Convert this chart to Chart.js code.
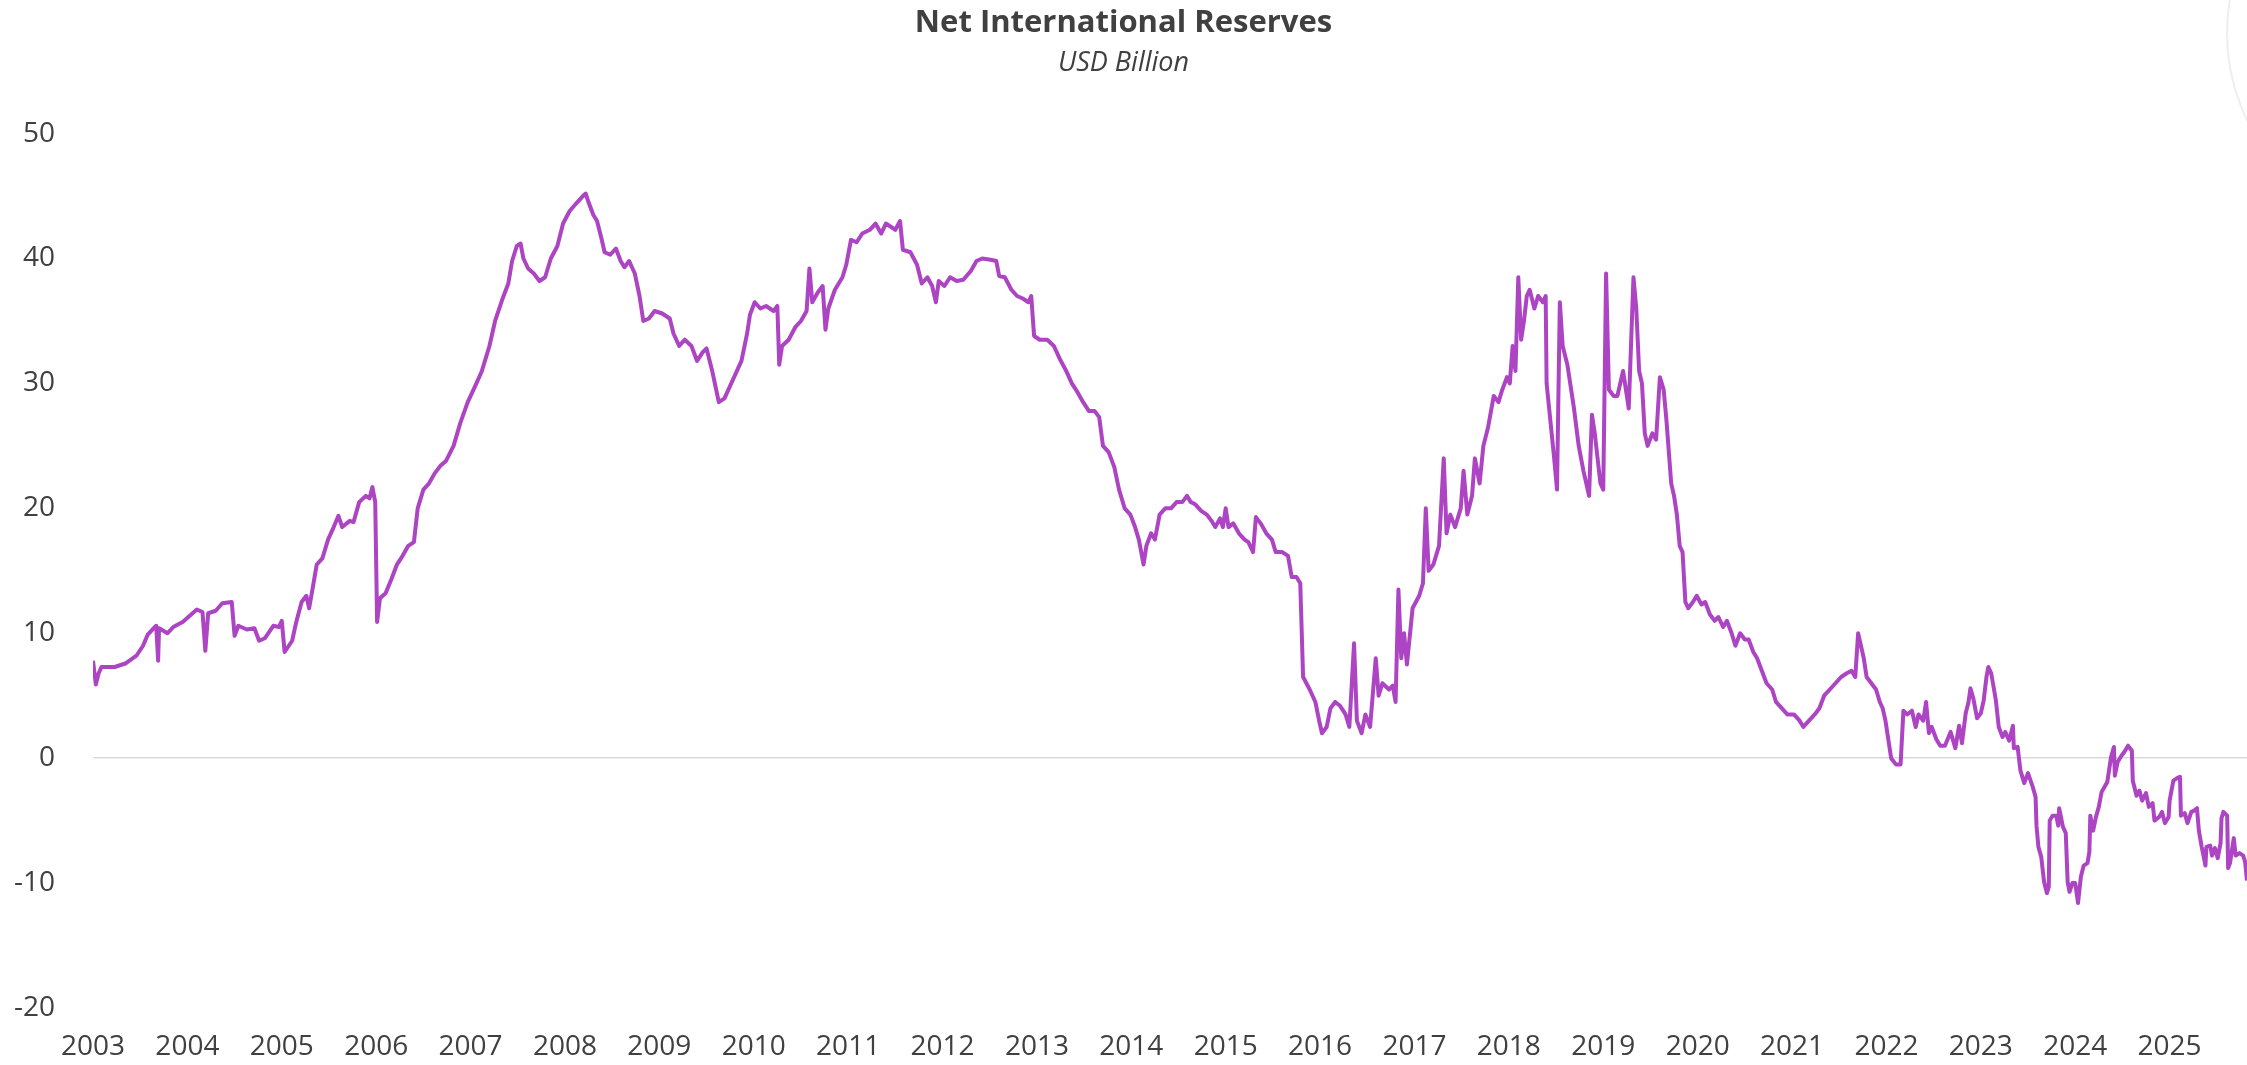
<!DOCTYPE html>
<html>
<head>
<meta charset="utf-8">
<script src="https://cdn.jsdelivr.net/npm/chart.js@4.4.1/dist/chart.umd.min.js"></script>
<style>
  html, body { margin: 0; padding: 0; background: #ffffff; }
  #wrap { width: 2247px; height: 1065px; position: relative; }
</style>
</head>
<body>
<div id="wrap"><canvas id="nirChart"></canvas></div>
<script>
// observation dates (decimal years) and net international reserves (USD bn)
const dates = [
  2003.00, 2003.03, 2003.06, 2003.09, 2003.23, 2003.35, 2003.46, 2003.53, 2003.58, 2003.63,
  2003.67, 2003.69, 2003.70, 2003.79, 2003.85, 2003.95, 2004.04, 2004.10, 2004.16, 2004.19,
  2004.22, 2004.30, 2004.37, 2004.47, 2004.50, 2004.54, 2004.63, 2004.71, 2004.76, 2004.82,
  2004.91, 2004.97, 2005.00, 2005.03, 2005.11, 2005.15, 2005.21, 2005.26, 2005.29, 2005.32,
  2005.37, 2005.43, 2005.49, 2005.55, 2005.60, 2005.64, 2005.72, 2005.76, 2005.82, 2005.89,
  2005.93, 2005.96, 2005.99, 2006.01, 2006.04, 2006.10, 2006.16, 2006.22, 2006.28, 2006.34,
  2006.40, 2006.44, 2006.50, 2006.56, 2006.62, 2006.68, 2006.74, 2006.82, 2006.89, 2006.97,
  2007.05, 2007.12, 2007.20, 2007.26, 2007.34, 2007.40, 2007.44, 2007.49, 2007.53, 2007.56,
  2007.61, 2007.67, 2007.73, 2007.79, 2007.85, 2007.92, 2007.98, 2008.05, 2008.13, 2008.19,
  2008.22, 2008.25, 2008.30, 2008.34, 2008.39, 2008.42, 2008.48, 2008.54, 2008.59, 2008.63,
  2008.68, 2008.74, 2008.79, 2008.83, 2008.89, 2008.95, 2009.03, 2009.11, 2009.15, 2009.21,
  2009.27, 2009.34, 2009.40, 2009.46, 2009.50, 2009.56, 2009.63, 2009.69, 2009.75, 2009.81,
  2009.87, 2009.93, 2009.96, 2010.01, 2010.07, 2010.13, 2010.21, 2010.25, 2010.27, 2010.30,
  2010.37, 2010.44, 2010.50, 2010.56, 2010.59, 2010.62, 2010.68, 2010.73, 2010.76, 2010.79,
  2010.86, 2010.94, 2010.98, 2011.03, 2011.09, 2011.15, 2011.23, 2011.29, 2011.35, 2011.40,
  2011.46, 2011.50, 2011.55, 2011.58, 2011.66, 2011.73, 2011.78, 2011.84, 2011.89, 2011.93,
  2011.96, 2012.02, 2012.08, 2012.15, 2012.22, 2012.30, 2012.36, 2012.42, 2012.51, 2012.57,
  2012.60, 2012.66, 2012.73, 2012.79, 2012.85, 2012.91, 2012.94, 2012.97, 2013.03, 2013.11,
  2013.18, 2013.24, 2013.31, 2013.37, 2013.43, 2013.49, 2013.55, 2013.61, 2013.66, 2013.70,
  2013.76, 2013.82, 2013.87, 2013.93, 2013.99, 2014.04, 2014.08, 2014.13, 2014.16, 2014.21,
  2014.25, 2014.30, 2014.36, 2014.42, 2014.48, 2014.54, 2014.59, 2014.63, 2014.68, 2014.74,
  2014.80, 2014.85, 2014.89, 2014.94, 2014.97, 2015.00, 2015.03, 2015.08, 2015.14, 2015.20,
  2015.24, 2015.29, 2015.32, 2015.37, 2015.43, 2015.49, 2015.53, 2015.60, 2015.66, 2015.70,
  2015.75, 2015.79, 2015.82, 2015.89, 2015.95, 2015.99, 2016.02, 2016.07, 2016.11, 2016.16,
  2016.21, 2016.27, 2016.31, 2016.36, 2016.39, 2016.44, 2016.48, 2016.53, 2016.59, 2016.62,
  2016.66, 2016.73, 2016.77, 2016.80, 2016.83, 2016.86, 2016.89, 2016.92, 2016.98, 2017.05,
  2017.09, 2017.12, 2017.15, 2017.20, 2017.26, 2017.31, 2017.34, 2017.38, 2017.43, 2017.49,
  2017.52, 2017.56, 2017.61, 2017.64, 2017.69, 2017.73, 2017.78, 2017.84, 2017.89, 2017.93,
  2017.98, 2018.01, 2018.04, 2018.07, 2018.10, 2018.13, 2018.16, 2018.19, 2018.22, 2018.27,
  2018.31, 2018.36, 2018.39, 2018.40, 2018.44, 2018.48, 2018.51, 2018.54, 2018.57, 2018.62,
  2018.65, 2018.69, 2018.74, 2018.79, 2018.82, 2018.85, 2018.88, 2018.91, 2018.94, 2018.97,
  2019.00, 2019.03, 2019.06, 2019.11, 2019.15, 2019.18, 2019.21, 2019.24, 2019.27, 2019.32,
  2019.35, 2019.38, 2019.41, 2019.44, 2019.47, 2019.52, 2019.56, 2019.60, 2019.64, 2019.67,
  2019.72, 2019.75, 2019.78, 2019.81, 2019.84, 2019.87, 2019.90, 2019.95, 2019.99, 2020.04,
  2020.08, 2020.13, 2020.18, 2020.22, 2020.27, 2020.31, 2020.36, 2020.40, 2020.45, 2020.50,
  2020.54, 2020.59, 2020.63, 2020.68, 2020.73, 2020.79, 2020.83, 2020.89, 2020.95, 2021.02,
  2021.08, 2021.12, 2021.18, 2021.24, 2021.29, 2021.34, 2021.40, 2021.46, 2021.52, 2021.58,
  2021.63, 2021.67, 2021.70, 2021.73, 2021.76, 2021.79, 2021.84, 2021.89, 2021.93, 2021.96,
  2021.99, 2022.02, 2022.05, 2022.10, 2022.15, 2022.18, 2022.22, 2022.27, 2022.31, 2022.34,
  2022.39, 2022.42, 2022.45, 2022.48, 2022.53, 2022.57, 2022.62, 2022.68, 2022.73, 2022.77,
  2022.80, 2022.84, 2022.87, 2022.89, 2022.92, 2022.96, 2023.00, 2023.03, 2023.06, 2023.08,
  2023.11, 2023.14, 2023.16, 2023.19, 2023.23, 2023.26, 2023.30, 2023.34, 2023.35, 2023.39,
  2023.42, 2023.46, 2023.50, 2023.55, 2023.58, 2023.59, 2023.61, 2023.64, 2023.67, 2023.70,
  2023.72, 2023.73, 2023.76, 2023.80, 2023.82, 2023.83, 2023.87, 2023.90, 2023.92, 2023.94,
  2023.97, 2024.00, 2024.03, 2024.06, 2024.09, 2024.13, 2024.15, 2024.16, 2024.19, 2024.22,
  2024.25, 2024.28, 2024.31, 2024.34, 2024.38, 2024.41, 2024.42, 2024.45, 2024.49, 2024.52,
  2024.56, 2024.60, 2024.61, 2024.65, 2024.68, 2024.71, 2024.75, 2024.78, 2024.82, 2024.84,
  2024.89, 2024.92, 2024.95, 2024.99, 2025.00, 2025.04, 2025.08, 2025.11, 2025.12, 2025.16,
  2025.19, 2025.23, 2025.26, 2025.29, 2025.31, 2025.34, 2025.38, 2025.39, 2025.43, 2025.45,
  2025.48, 2025.51, 2025.54, 2025.55, 2025.57, 2025.61, 2025.62, 2025.64, 2025.66, 2025.68,
  2025.70, 2025.74, 2025.78, 2025.80, 2025.82
];
const reserves = [
  7.8, 5.9, 6.8, 7.3, 7.3, 7.6, 8.2, 9.0, 9.9, 10.3,
  10.6, 7.8, 10.4, 10.0, 10.5, 10.9, 11.5, 11.9, 11.7, 8.6,
  11.6, 11.8, 12.4, 12.5, 9.8, 10.6, 10.3, 10.4, 9.4, 9.6,
  10.6, 10.5, 11.0, 8.5, 9.4, 10.8, 12.5, 13.0, 12.0, 13.3,
  15.5, 16.0, 17.5, 18.5, 19.4, 18.5, 19.0, 18.9, 20.5, 21.0,
  20.8, 21.7, 20.5, 10.9, 12.8, 13.2, 14.3, 15.5, 16.2, 17.0,
  17.3, 20.0, 21.5, 22.0, 22.8, 23.4, 23.8, 25.0, 26.8, 28.5,
  29.8, 31.0, 33.0, 35.0, 36.8, 38.0, 39.8, 41.0, 41.2, 40.0,
  39.2, 38.8, 38.2, 38.5, 40.0, 41.0, 42.8, 43.8, 44.5, 45.0,
  45.2, 44.5, 43.5, 43.0, 41.5, 40.5, 40.3, 40.8, 39.8, 39.3,
  39.8, 38.8, 37.0, 35.0, 35.2, 35.8, 35.6, 35.2, 34.0, 33.0,
  33.5, 33.0, 31.8, 32.5, 32.8, 31.0, 28.5, 28.8, 29.8, 30.8,
  31.8, 34.0, 35.5, 36.5, 36.0, 36.2, 35.8, 36.2, 31.5, 33.0,
  33.5, 34.5, 35.0, 35.8, 39.2, 36.5, 37.3, 37.8, 34.3, 36.0,
  37.5, 38.5, 39.5, 41.5, 41.3, 42.0, 42.3, 42.8, 42.0, 42.8,
  42.5, 42.3, 43.0, 40.7, 40.5, 39.5, 38.0, 38.5, 37.8, 36.5,
  38.2, 37.8, 38.5, 38.2, 38.3, 39.0, 39.8, 40.0, 39.9, 39.8,
  38.6, 38.5, 37.5, 37.0, 36.8, 36.5, 37.0, 33.8, 33.5, 33.5,
  33.0, 32.0, 31.0, 30.0, 29.3, 28.5, 27.8, 27.8, 27.3, 25.0,
  24.5, 23.3, 21.5, 20.0, 19.5, 18.5, 17.5, 15.5, 17.0, 18.0,
  17.5, 19.5, 20.0, 20.0, 20.5, 20.5, 21.0, 20.5, 20.3, 19.8,
  19.5, 19.0, 18.5, 19.2, 18.5, 20.0, 18.5, 18.8, 18.0, 17.5,
  17.3, 16.5, 19.3, 18.8, 18.0, 17.5, 16.5, 16.5, 16.2, 14.5,
  14.5, 14.0, 6.5, 5.5, 4.5, 3.0, 2.0, 2.5, 4.0, 4.5,
  4.2, 3.5, 2.5, 9.2, 3.0, 2.0, 3.5, 2.5, 8.0, 5.0,
  6.0, 5.5, 5.8, 4.5, 13.5, 8.0, 10.0, 7.5, 12.0, 13.0,
  14.0, 20.0, 15.0, 15.5, 17.0, 24.0, 18.0, 19.5, 18.5, 20.0,
  23.0, 19.5, 21.0, 24.0, 22.0, 25.0, 26.5, 29.0, 28.5, 29.5,
  30.5, 30.0, 33.0, 31.0, 38.5, 33.5, 35.0, 37.0, 37.5, 36.0,
  37.0, 36.5, 37.0, 30.0, 27.0, 24.0, 21.5, 36.5, 33.0, 31.5,
  30.0, 28.0, 25.0, 23.0, 22.0, 21.0, 27.5, 26.0, 24.0, 22.0,
  21.5, 38.8, 29.5, 29.0, 29.0, 30.0, 31.0, 29.5, 28.0, 38.5,
  36.0, 31.0, 30.0, 26.0, 25.0, 26.0, 25.5, 30.5, 29.5, 27.0,
  22.0, 21.0, 19.5, 17.0, 16.5, 12.5, 12.0, 12.5, 13.0, 12.3,
  12.5, 11.5, 11.0, 11.3, 10.5, 11.0, 10.0, 9.0, 10.0, 9.5,
  9.5, 8.5, 8.0, 7.0, 6.0, 5.5, 4.5, 4.0, 3.5, 3.5,
  3.0, 2.5, 3.0, 3.5, 4.0, 5.0, 5.5, 6.0, 6.5, 6.8,
  7.0, 6.5, 10.0, 9.0, 8.0, 6.5, 6.0, 5.5, 4.5, 4.0,
  3.0, 1.5, 0.0, -0.5, -0.5, 3.8, 3.5, 3.8, 2.5, 3.5,
  3.0, 4.5, 2.0, 2.5, 1.5, 1.0, 1.0, 2.1, 0.8, 2.6,
  1.2, 3.6, 4.5, 5.6, 4.8, 3.2, 3.6, 4.6, 6.5, 7.3,
  6.8, 5.5, 4.6, 2.5, 1.7, 2.1, 1.4, 2.6, 0.8, 0.9,
  -1.0, -2.0, -1.2, -2.3, -3.1, -5.4, -7.1, -7.9, -9.9, -10.8,
  -10.3, -5.0, -4.6, -4.6, -5.4, -4.0, -5.5, -6.0, -9.9, -10.7,
  -10.0, -10.0, -11.6, -9.5, -8.6, -8.4, -7.5, -4.6, -5.8, -4.7,
  -3.9, -2.7, -2.3, -1.9, 0.1, 0.9, -1.4, -0.3, 0.2, 0.5,
  1.0, 0.6, -1.8, -3.0, -2.6, -3.4, -2.8, -3.9, -3.6, -5.0,
  -4.7, -4.3, -5.2, -4.7, -3.4, -1.8, -1.6, -1.5, -4.6, -4.4,
  -5.2, -4.3, -4.2, -4.0, -5.8, -7.1, -8.6, -7.1, -7.0, -7.8,
  -7.2, -8.0, -6.8, -4.8, -4.3, -4.6, -8.8, -8.4, -7.4, -6.4,
  -7.8, -7.6, -7.8, -8.3, -9.8
];
const yearTicks = [2003, 2004, 2005, 2006, 2007, 2008, 2009, 2010, 2011, 2012, 2013, 2014,
                   2015, 2016, 2017, 2018, 2019, 2020, 2021, 2022, 2023, 2024, 2025];
const valueTicks = [-20, -10, 0, 10, 20, 30, 40, 50];

const textColor = '#404040';

// faint circle edge in the top-right corner of the original
const cornerArc = {
  id: 'cornerArc',
  beforeDraw(chart) {
    const c = chart.ctx;
    c.save();
    c.strokeStyle = '#EEEEEE';
    c.lineWidth = 2;
    c.beginPath();
    c.arc(2426, 33, 199, 0, Math.PI * 2);
    c.stroke();
    c.restore();
  }
};

const ctx = document.getElementById('nirChart').getContext('2d');
const nirChart = new Chart(ctx, {
  type: 'line',
  data: {
    datasets: [{
      label: 'Net International Reserves',
      data: dates.map((d, i) => ({ x: d, y: reserves[i] })),
      borderColor: '#AD44C3',
      borderWidth: 4,
      borderJoinStyle: 'round',
      pointRadius: 0,
      tension: 0,
      fill: false
    }]
  },
  options: {
    responsive: true,
    maintainAspectRatio: false,
    animation: false,
    layout: { padding: 0 },
    plugins: {
      legend: { display: false },
      tooltip: { enabled: false },
      title: {
        display: true,
        text: 'Net International Reserves',
        color: textColor,
        font: { family: 'Open Sans', size: 31, weight: 'bold' },
        padding: { top: 5, bottom: 5 }
      },
      subtitle: {
        display: true,
        text: 'USD Billion',
        color: textColor,
        font: { family: 'Open Sans', size: 27, style: 'italic' },
        padding: { top: 0, bottom: 54 }
      }
    },
    scales: {
      x: {
        type: 'linear',
        min: 2003,
        max: 2025.82,
        afterBuildTicks: axis => { axis.ticks = yearTicks.map(v => ({ value: v })); },
        afterFit: axis => { axis.height = 57; },
        grid: { display: false, drawTicks: false },
        border: { display: false },
        ticks: {
          color: textColor,
          font: { family: 'Open Sans', size: 28 },
          padding: 22,
          autoSkip: false,
          maxRotation: 0,
          callback: v => String(v)
        }
      },
      y: {
        min: -20,
        max: 50,
        afterBuildTicks: axis => { axis.ticks = valueTicks.map(v => ({ value: v })); },
        afterFit: axis => { axis.width = 93; },
        grid: {
          drawTicks: false,
          lineWidth: 1.5,
          color: c => (c.tick && c.tick.value === 0) ? '#D9D9D9' : 'rgba(0,0,0,0)'
        },
        border: { display: false },
        ticks: {
          color: textColor,
          font: { family: 'Open Sans', size: 28 },
          padding: 38
        }
      }
    }
  },
  plugins: [cornerArc]
});
</script>
</body>
</html>
